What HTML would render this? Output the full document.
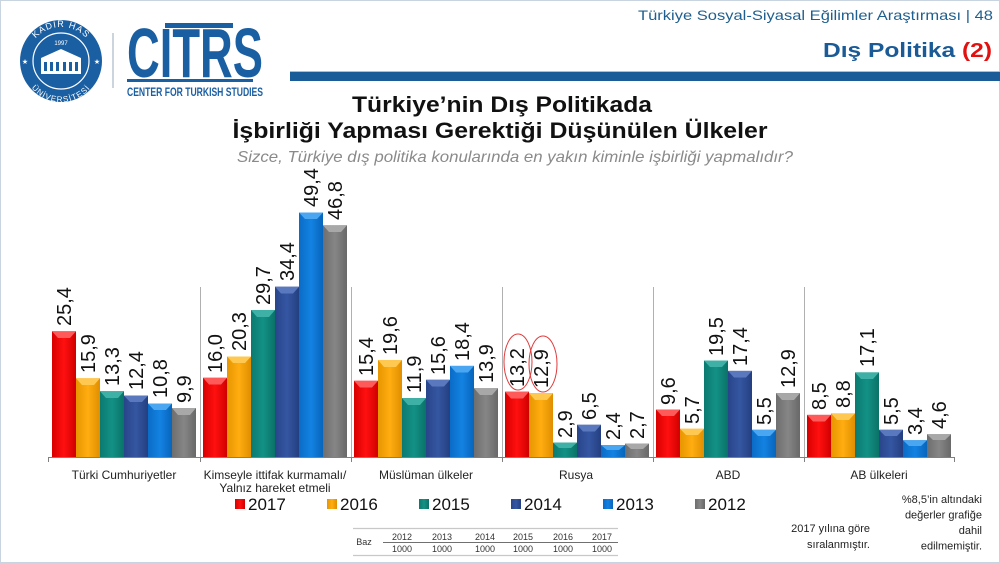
<!DOCTYPE html>
<html><head><meta charset="utf-8"><style>
html,body{margin:0;padding:0;background:#fff;}
svg{display:block;}
text{font-family:"Liberation Sans",sans-serif;}
</style></head><body>
<svg width="1000" height="563" viewBox="0 0 1000 563" xmlns="http://www.w3.org/2000/svg">
<defs>
<linearGradient id="gR" x1="0" x2="1" y1="0" y2="0"><stop offset="0" stop-color="#d80000"/><stop offset="0.5" stop-color="#ff1010"/><stop offset="1" stop-color="#d00000"/></linearGradient>
<linearGradient id="gO" x1="0" x2="1" y1="0" y2="0"><stop offset="0" stop-color="#e89600"/><stop offset="0.5" stop-color="#ffad10"/><stop offset="1" stop-color="#e08e00"/></linearGradient>
<linearGradient id="gT" x1="0" x2="1" y1="0" y2="0"><stop offset="0" stop-color="#0b7a70"/><stop offset="0.5" stop-color="#139185"/><stop offset="1" stop-color="#0a7268"/></linearGradient>
<linearGradient id="gN" x1="0" x2="1" y1="0" y2="0"><stop offset="0" stop-color="#28458a"/><stop offset="0.5" stop-color="#3556a2"/><stop offset="1" stop-color="#243f80"/></linearGradient>
<linearGradient id="gB" x1="0" x2="1" y1="0" y2="0"><stop offset="0" stop-color="#0a6cc6"/><stop offset="0.5" stop-color="#1382e2"/><stop offset="1" stop-color="#0865bb"/></linearGradient>
<linearGradient id="gG" x1="0" x2="1" y1="0" y2="0"><stop offset="0" stop-color="#6e6e6e"/><stop offset="0.5" stop-color="#868686"/><stop offset="1" stop-color="#686868"/></linearGradient>
<path id="arcTop" d="M 27,61 A 34,34 0 0 1 95,61"/>
<path id="arcBot" d="M 23,64 A 38,38 0 0 0 99,64"/>
</defs>

<!-- frame -->
<rect x="0.5" y="0.5" width="999" height="562" fill="none" stroke="#c8d4e0" stroke-width="1"/>

<!-- Kadir Has logo -->
<circle cx="61" cy="61" r="41" fill="#1b5fa3"/>
<circle cx="61" cy="61" r="28" fill="none" stroke="#fff" stroke-width="1.2"/>
<text font-size="9" fill="#fff" font-family="Liberation Serif,serif" letter-spacing="1"><textPath href="#arcTop" startOffset="50%" text-anchor="middle">KADİR HAS</textPath></text>
<text font-size="8" fill="#fff" font-family="Liberation Serif,serif" letter-spacing="1"><textPath href="#arcBot" startOffset="50%" text-anchor="middle">ÜNİVERSİTESİ</textPath></text>
<text x="61" y="45" font-size="6" fill="#fff" text-anchor="middle" font-family="Liberation Serif,serif">1997</text>
<path d="M41,58 L61,49 L81,58 Z" fill="#fff"/>
<rect x="41" y="58" width="40" height="16" fill="#fff"/>
<g fill="#1b5fa3"><rect x="44" y="62" width="3" height="9"/><rect x="50" y="62" width="3" height="9"/><rect x="56" y="62" width="3" height="9"/><rect x="63" y="62" width="3" height="9"/><rect x="69" y="62" width="3" height="9"/><rect x="75" y="62" width="3" height="9"/></g>
<text x="25" y="64" font-size="7" fill="#fff" text-anchor="middle">★</text>
<text x="97" y="64" font-size="7" fill="#fff" text-anchor="middle">★</text>
<line x1="113" y1="33" x2="113" y2="88" stroke="#9aaabb" stroke-width="1"/>

<!-- CITRS -->
<rect x="165" y="23" width="68" height="5" fill="#1b5fa3"/>
<text x="127" y="77" font-size="70" font-weight="bold" fill="#1b5fa3" font-family="Liberation Sans Narrow,Liberation Sans,sans-serif" textLength="136" lengthAdjust="spacingAndGlyphs">CITRS</text>
<rect x="127" y="79" width="126" height="3" fill="#1b5fa3"/>
<text x="127" y="96" font-size="12" font-weight="bold" fill="#1b5fa3" font-family="Liberation Sans Narrow,Liberation Sans,sans-serif" textLength="136" lengthAdjust="spacingAndGlyphs">CENTER FOR TURKISH STUDIES</text>

<!-- header right -->
<text x="993" y="20" font-size="14" fill="#1f5f8f" text-anchor="end" textLength="355" lengthAdjust="spacingAndGlyphs">Türkiye Sosyal-Siyasal Eğilimler Araştırması | 48</text>
<text x="992" y="57" font-size="20" font-weight="bold" fill="#1a5a96" text-anchor="end" textLength="169" lengthAdjust="spacingAndGlyphs">Dış Politika <tspan fill="#e31010">(2)</tspan></text>
<rect x="290" y="71" width="710" height="1" fill="#a9bfd6"/>
<rect x="290" y="72" width="710" height="9" fill="#1a5c98"/>

<!-- titles -->
<text x="502" y="112" font-size="22" font-weight="bold" fill="#111" text-anchor="middle" textLength="300" lengthAdjust="spacingAndGlyphs">Türkiye’nin Dış Politikada</text>
<text x="500" y="138" font-size="22" font-weight="bold" fill="#111" text-anchor="middle" textLength="535" lengthAdjust="spacingAndGlyphs">İşbirliği Yapması Gerektiği Düşünülen Ülkeler</text>
<text x="515" y="162" font-size="16" font-style="italic" fill="#8a8a8a" text-anchor="middle" textLength="556" lengthAdjust="spacingAndGlyphs">Sizce, Türkiye dış politika konularında en yakın kiminle işbirliği yapmalıdır?</text>

<!-- separators & axis -->
<g stroke="#b0b0b0" stroke-width="1">
<line x1="200.5" y1="287" x2="200.5" y2="457"/>
<line x1="351.5" y1="287" x2="351.5" y2="457"/>
<line x1="502.5" y1="287" x2="502.5" y2="457"/>
<line x1="653.5" y1="287" x2="653.5" y2="457"/>
<line x1="804.5" y1="287" x2="804.5" y2="457"/>
</g>
<g stroke="#808080" stroke-width="1">
<line x1="48" y1="457.5" x2="955" y2="457.5"/>
<line x1="48.5" y1="457" x2="48.5" y2="462"/>
<line x1="200.5" y1="457" x2="200.5" y2="462"/>
<line x1="351.5" y1="457" x2="351.5" y2="462"/>
<line x1="502.5" y1="457" x2="502.5" y2="462"/>
<line x1="653.5" y1="457" x2="653.5" y2="462"/>
<line x1="804.5" y1="457" x2="804.5" y2="462"/>
<line x1="954.5" y1="457" x2="954.5" y2="462"/>
</g>

<!-- bars -->
<g>
<!-- G1 -->
<rect x="52" y="331.3" width="24" height="125.7" fill="url(#gR)"/><polygon points="52,331.3 76,331.3 70,338 58,338" fill="#ff5a5a"/>
<rect x="76" y="378.3" width="24" height="78.7" fill="url(#gO)"/><polygon points="76,378.3 100,378.3 94,385 82,385" fill="#ffc850"/>
<rect x="100" y="391.2" width="24" height="65.8" fill="url(#gT)"/><polygon points="100,391.2 124,391.2 118,398 106,398" fill="#3fb0a5"/>
<rect x="124" y="395.6" width="24" height="61.4" fill="url(#gN)"/><polygon points="124,395.6 148,395.6 142,402 130,402" fill="#5a78bd"/>
<rect x="148" y="403.5" width="24" height="53.5" fill="url(#gB)"/><polygon points="148,403.5 172,403.5 166,410 154,410" fill="#4aa6f0"/>
<rect x="172" y="408" width="24" height="49" fill="url(#gG)"/><polygon points="172,408 196,408 190,415 178,415" fill="#a8a8a8"/>
<!-- G2 -->
<rect x="203" y="377.8" width="24" height="79.2" fill="url(#gR)"/><polygon points="203,377.8 227,377.8 221,384.5 209,384.5" fill="#ff5a5a"/>
<rect x="227" y="356.5" width="24" height="100.5" fill="url(#gO)"/><polygon points="227,356.5 251,356.5 245,363 233,363" fill="#ffc850"/>
<rect x="251" y="310" width="24" height="147" fill="url(#gT)"/><polygon points="251,310 275,310 269,317 257,317" fill="#3fb0a5"/>
<rect x="275" y="286.7" width="24" height="170.3" fill="url(#gN)"/><polygon points="275,286.7 299,286.7 293,293.5 281,293.5" fill="#5a78bd"/>
<rect x="299" y="212.5" width="24" height="244.5" fill="url(#gB)"/><polygon points="299,212.5 323,212.5 317,219 305,219" fill="#4aa6f0"/>
<rect x="323" y="225.3" width="24" height="231.7" fill="url(#gG)"/><polygon points="323,225.3 347,225.3 341,232 329,232" fill="#a8a8a8"/>
<!-- G3 -->
<rect x="354" y="380.8" width="24" height="76.2" fill="url(#gR)"/><polygon points="354,380.8 378,380.8 372,387.5 360,387.5" fill="#ff5a5a"/>
<rect x="378" y="360" width="24" height="97" fill="url(#gO)"/><polygon points="378,360 402,360 396,367 384,367" fill="#ffc850"/>
<rect x="402" y="398.1" width="24" height="58.9" fill="url(#gT)"/><polygon points="402,398.1 426,398.1 420,405 408,405" fill="#3fb0a5"/>
<rect x="426" y="379.8" width="24" height="77.2" fill="url(#gN)"/><polygon points="426,379.8 450,379.8 444,386.5 432,386.5" fill="#5a78bd"/>
<rect x="450" y="365.9" width="24" height="91.1" fill="url(#gB)"/><polygon points="450,365.9 474,365.9 468,372.5 456,372.5" fill="#4aa6f0"/>
<rect x="474" y="388.2" width="24" height="68.8" fill="url(#gG)"/><polygon points="474,388.2 498,388.2 492,395 480,395" fill="#a8a8a8"/>
<!-- G4 -->
<rect x="505" y="391.7" width="24" height="65.3" fill="url(#gR)"/><polygon points="505,391.7 529,391.7 523,398.5 511,398.5" fill="#ff5a5a"/>
<rect x="529" y="393.1" width="24" height="63.9" fill="url(#gO)"/><polygon points="529,393.1 553,393.1 547,400 535,400" fill="#ffc850"/>
<rect x="553" y="442.6" width="24" height="14.4" fill="url(#gT)"/><polygon points="553,442.6 577,442.6 571,448 559,448" fill="#3fb0a5"/>
<rect x="577" y="424.8" width="24" height="32.2" fill="url(#gN)"/><polygon points="577,424.8 601,424.8 595,431.5 583,431.5" fill="#5a78bd"/>
<rect x="601" y="445.1" width="24" height="11.9" fill="url(#gB)"/><polygon points="601,445.1 625,445.1 619,450 607,450" fill="#4aa6f0"/>
<rect x="625" y="443.6" width="24" height="13.4" fill="url(#gG)"/><polygon points="625,443.6 649,443.6 643,449 631,449" fill="#a8a8a8"/>
<!-- G5 -->
<rect x="656" y="409.5" width="24" height="47.5" fill="url(#gR)"/><polygon points="656,409.5 680,409.5 674,416 662,416" fill="#ff5a5a"/>
<rect x="680" y="428.8" width="24" height="28.2" fill="url(#gO)"/><polygon points="680,428.8 704,428.8 698,435 686,435" fill="#ffc850"/>
<rect x="704" y="360.5" width="24" height="96.5" fill="url(#gT)"/><polygon points="704,360.5 728,360.5 722,367 710,367" fill="#3fb0a5"/>
<rect x="728" y="370.9" width="24" height="86.1" fill="url(#gN)"/><polygon points="728,370.9 752,370.9 746,377.5 734,377.5" fill="#5a78bd"/>
<rect x="752" y="429.8" width="24" height="27.2" fill="url(#gB)"/><polygon points="752,429.8 776,429.8 770,436 758,436" fill="#4aa6f0"/>
<rect x="776" y="393.1" width="24" height="63.9" fill="url(#gG)"/><polygon points="776,393.1 800,393.1 794,400 782,400" fill="#a8a8a8"/>
<!-- G6 -->
<rect x="807" y="414.9" width="24" height="42.1" fill="url(#gR)"/><polygon points="807,414.9 831,414.9 825,421.5 813,421.5" fill="#ff5a5a"/>
<rect x="831" y="413.4" width="24" height="43.6" fill="url(#gO)"/><polygon points="831,413.4 855,413.4 849,420 837,420" fill="#ffc850"/>
<rect x="855" y="372.4" width="24" height="84.6" fill="url(#gT)"/><polygon points="855,372.4 879,372.4 873,379 861,379" fill="#3fb0a5"/>
<rect x="879" y="429.8" width="24" height="27.2" fill="url(#gN)"/><polygon points="879,429.8 903,429.8 897,436 885,436" fill="#5a78bd"/>
<rect x="903" y="440.2" width="24" height="16.8" fill="url(#gB)"/><polygon points="903,440.2 927,440.2 921,446 909,446" fill="#4aa6f0"/>
<rect x="927" y="434.2" width="24" height="22.8" fill="url(#gG)"/><polygon points="927,434.2 951,434.2 945,440 933,440" fill="#a8a8a8"/>
</g>

<!-- value labels -->
<g font-size="20" fill="#111">
<text transform="translate(71,326) rotate(-90)">25,4</text>
<text transform="translate(95,373) rotate(-90)">15,9</text>
<text transform="translate(119,386) rotate(-90)">13,3</text>
<text transform="translate(143,390) rotate(-90)">12,4</text>
<text transform="translate(167,398) rotate(-90)">10,8</text>
<text transform="translate(191,403) rotate(-90)">9,9</text>

<text transform="translate(222,373) rotate(-90)">16,0</text>
<text transform="translate(246,351) rotate(-90)">20,3</text>
<text transform="translate(270,305) rotate(-90)">29,7</text>
<text transform="translate(294,281) rotate(-90)">34,4</text>
<text transform="translate(318,207) rotate(-90)">49,4</text>
<text transform="translate(342,220) rotate(-90)">46,8</text>

<text transform="translate(373,376) rotate(-90)">15,4</text>
<text transform="translate(397,355) rotate(-90)">19,6</text>
<text transform="translate(421,393) rotate(-90)">11,9</text>
<text transform="translate(445,375) rotate(-90)">15,6</text>
<text transform="translate(469,361) rotate(-90)">18,4</text>
<text transform="translate(493,383) rotate(-90)">13,9</text>

<text transform="translate(524,387) rotate(-90)">13,2</text>
<text transform="translate(548,388) rotate(-90)">12,9</text>
<text transform="translate(572,438) rotate(-90)">2,9</text>
<text transform="translate(596,420) rotate(-90)">6,5</text>
<text transform="translate(620,440) rotate(-90)">2,4</text>
<text transform="translate(644,439) rotate(-90)">2,7</text>

<text transform="translate(675,405) rotate(-90)">9,6</text>
<text transform="translate(699,424) rotate(-90)">5,7</text>
<text transform="translate(723,356) rotate(-90)">19,5</text>
<text transform="translate(747,366) rotate(-90)">17,4</text>
<text transform="translate(771,425) rotate(-90)">5,5</text>
<text transform="translate(795,388) rotate(-90)">12,9</text>

<text transform="translate(826,410) rotate(-90)">8,5</text>
<text transform="translate(850,408) rotate(-90)">8,8</text>
<text transform="translate(874,367) rotate(-90)">17,1</text>
<text transform="translate(898,425) rotate(-90)">5,5</text>
<text transform="translate(922,435) rotate(-90)">3,4</text>
<text transform="translate(946,429) rotate(-90)">4,6</text>
</g>

<!-- red ellipses -->
<ellipse cx="518" cy="362" rx="14" ry="28" fill="none" stroke="#e03a3a" stroke-width="1"/>
<ellipse cx="543" cy="364" rx="14" ry="28" fill="none" stroke="#e03a3a" stroke-width="1"/>

<!-- category labels -->
<g font-size="12" fill="#222" text-anchor="middle">
<text x="124" y="479">Türki Cumhuriyetler</text>
<text x="275" y="479">Kimseyle ittifak kurmamalı/</text>
<text x="275" y="492">Yalnız hareket etmeli</text>
<text x="426" y="479">Müslüman ülkeler</text>
<text x="576" y="479">Rusya</text>
<text x="728" y="479">ABD</text>
<text x="879" y="479">AB ülkeleri</text>
</g>

<!-- legend -->
<rect x="235" y="499" width="10" height="10" fill="url(#gR)"/>
<rect x="327" y="499" width="10" height="10" fill="url(#gO)"/>
<rect x="419" y="499" width="10" height="10" fill="url(#gT)"/>
<rect x="511" y="499" width="10" height="10" fill="url(#gN)"/>
<rect x="603" y="499" width="10" height="10" fill="url(#gB)"/>
<rect x="695" y="499" width="10" height="10" fill="url(#gG)"/>
<g font-size="17" fill="#111">
<text x="248" y="510">2017</text>
<text x="340" y="510">2016</text>
<text x="432" y="510">2015</text>
<text x="524" y="510">2014</text>
<text x="616" y="510">2013</text>
<text x="708" y="510">2012</text>
</g>

<!-- table -->
<line x1="353" y1="528.5" x2="618" y2="528.5" stroke="#c8c8c8" stroke-width="1.2"/>
<line x1="383" y1="542.5" x2="618" y2="542.5" stroke="#707070" stroke-width="1"/>
<line x1="353" y1="555.5" x2="618" y2="555.5" stroke="#c8c8c8" stroke-width="1.2"/>
<g font-size="9" fill="#333" text-anchor="middle">
<text x="364" y="545">Baz</text>
<text x="402" y="540">2012</text><text x="442" y="540">2013</text><text x="485" y="540">2014</text><text x="523" y="540">2015</text><text x="563" y="540">2016</text><text x="602" y="540">2017</text>
<text x="402" y="552">1000</text><text x="442" y="552">1000</text><text x="485" y="552">1000</text><text x="523" y="552">1000</text><text x="563" y="552">1000</text><text x="602" y="552">1000</text>
</g>

<!-- notes -->
<g font-size="11" fill="#222" text-anchor="end">
<text x="870" y="532">2017 yılına göre</text>
<text x="870" y="548">sıralanmıştır.</text>
<text x="982" y="503">%8,5’in altındaki</text>
<text x="982" y="518.5">değerler grafiğe</text>
<text x="982" y="534">dahil</text>
<text x="982" y="549.5">edilmemiştir.</text>
</g>
</svg>
</body></html>
